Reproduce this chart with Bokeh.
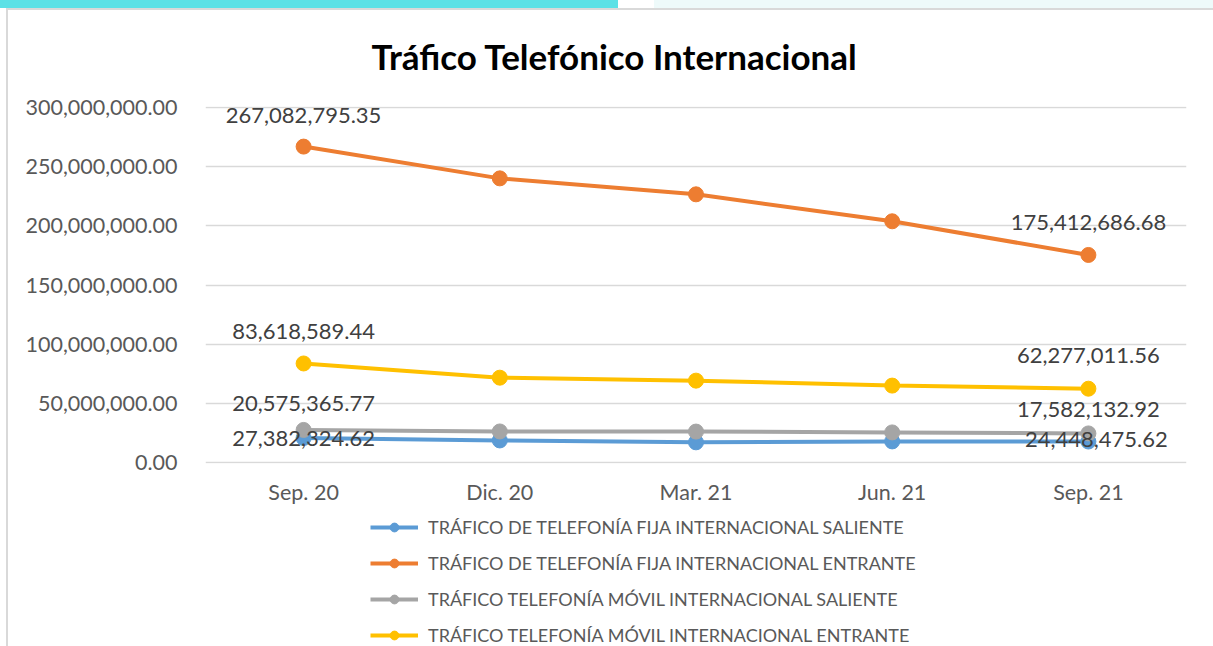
from bokeh.plotting import figure
from bokeh.layouts import column
from bokeh.models import Range1d, FixedTicker, NumeralTickFormatter, Legend, LegendItem, ColumnDataSource
from bokeh.embed import file_html
from bokeh.resources import INLINE
from bokeh.core.properties import value

categories = ["Sep. 20", "Dic. 20", "Mar. 21", "Jun. 21", "Sep. 21"]
fija_saliente = [20575365.77, 18500000.0, 16900000.0, 17700000.0, 17582132.92]
fija_entrante = [267082795.35, 240200000.0, 226700000.0, 203900000.0, 175412686.68]
movil_saliente = [27382324.62, 26100000.0, 26000000.0, 25300000.0, 24448475.62]
movil_entrante = [83618589.44, 71600000.0, 69100000.0, 64900000.0, 62277011.56]
series_names = [
    "TRÁFICO DE TELEFONÍA FIJA INTERNACIONAL SALIENTE",
    "TRÁFICO DE TELEFONÍA FIJA INTERNACIONAL ENTRANTE",
    "TRÁFICO TELEFONÍA MÓVIL INTERNACIONAL SALIENTE",
    "TRÁFICO TELEFONÍA MÓVIL INTERNACIONAL ENTRANTE",
]
y_ticks = [0, 50000000, 100000000, 150000000, 200000000, 250000000, 300000000]
title_text = "Tráfico Telefónico Internacional"

FONT = "Lato"
colors = ["#5B9BD5", "#ED7D31", "#A5A5A5", "#FFC000"]
series = [fija_saliente, fija_entrante, movil_saliente, movil_entrante]
# label offsets (first point, last point): (x_off, y_off)
label_offsets = [
    [(0, -34), (0, -32)],
    [(0, -31), (0, -32)],
    [(0, 9), (8, 6)],
    [(0, -32), (0, -33)],
]

p = figure(width=1213, height=516, x_range=categories, y_range=Range1d(-1000000, 301000000),
           output_backend="svg", toolbar_location=None,
           min_border_left=205, min_border_right=27, min_border_top=106, min_border_bottom=53)
p.outline_line_color = None
p.background_fill_color = "white"
p.border_fill_alpha = 0

p.title.text = title_text
p.title.text_font = FONT
p.title.text_font_size = "35px"
p.title.text_font_style = "bold"
p.title.text_color = "#000000"
p.title.text_line_height = 1.0
p.title.align = "left"
p.title.offset = 166
p.title.standoff = 60

p.yaxis.ticker = FixedTicker(ticks=y_ticks)
p.yaxis.formatter = NumeralTickFormatter(format="0,0.00")
p.yaxis.axis_line_color = None
p.yaxis.major_tick_line_color = None
p.yaxis.minor_tick_line_color = None
p.yaxis.major_tick_out = 0
p.yaxis.major_label_standoff = 28
p.yaxis.major_label_text_font = FONT
p.yaxis.major_label_text_font_size = "21.5px"
p.yaxis.major_label_text_color = "#595959"

p.xaxis.axis_line_color = None
p.xaxis.major_tick_line_color = None
p.xaxis.minor_tick_line_color = None
p.xaxis.major_tick_out = 0
p.xaxis.major_label_standoff = 15
p.xaxis.major_label_text_font = FONT
p.xaxis.major_label_text_font_size = "21.5px"
p.xaxis.major_label_text_color = "#595959"

p.xgrid.grid_line_color = None
p.ygrid.grid_line_color = "#D9D9D9"
p.ygrid.grid_line_width = 1.5

for name, vals, col, offs in zip(series_names, series, colors, label_offsets):
    src = ColumnDataSource(dict(x=categories, y=vals))
    p.line("x", "y", source=src, line_color=col, line_width=4)
    p.scatter("x", "y", source=src, size=15, fill_color=col, line_color=col)
    for idx, (xo, yo) in zip([0, len(vals) - 1], offs):
        p.text(x=[categories[idx]], y=[vals[idx]], text=["{:,.2f}".format(vals[idx])],
               x_offset=xo, y_offset=yo, text_align="center", text_baseline="middle",
               text_font=value(FONT), text_font_size="22px", text_color="#404040")

# legend strip below the chart
pl = figure(width=1213, height=130, x_range=Range1d(0, 1), y_range=Range1d(0, 1),
            output_backend="svg", toolbar_location=None,
            min_border_left=0, min_border_right=0, min_border_top=0, min_border_bottom=0)
pl.axis.visible = False
pl.grid.visible = False
pl.outline_line_color = None
pl.border_fill_alpha = 0
pl.background_fill_alpha = 0
items = []
for name, col in zip(series_names, colors):
    l = pl.line(x=[-5, -4], y=[-5, -4], line_color=col, line_width=4)
    c = pl.scatter(x=[-5], y=[-5], size=12, fill_color=col, line_color=col)
    items.append(LegendItem(label=name, renderers=[l, c]))
legend = Legend(items=items, location=(165, 0), orientation="vertical",
                label_text_font=FONT, label_text_font_size="18px", label_text_color="#595959",
                glyph_width=48, glyph_height=22, label_standoff=10, spacing=14,
                padding=0, margin=0, border_line_color=None, background_fill_alpha=0)
pl.add_layout(legend, "center")

layout = column(p, pl, spacing=0)
# page decoration: coloured strip on top and thin grey frame lines
layout.styles = {
    "background-color": "white",
    "background-image": ("linear-gradient(#5CE1E6,#5CE1E6), linear-gradient(#EEFAFA,#EEFAFA), "
                         "linear-gradient(#D9D9D9,#D9D9D9), linear-gradient(#D9D9D9,#D9D9D9)"),
    "background-size": "618px 8px, 559px 8px, 1207px 2px, 2px 636px",
    "background-position": "0px 0px, 654px 0px, 6px 8px, 6px 10px",
    "background-repeat": "no-repeat",
}
open("out.html", "w").write(file_html(layout, INLINE))
